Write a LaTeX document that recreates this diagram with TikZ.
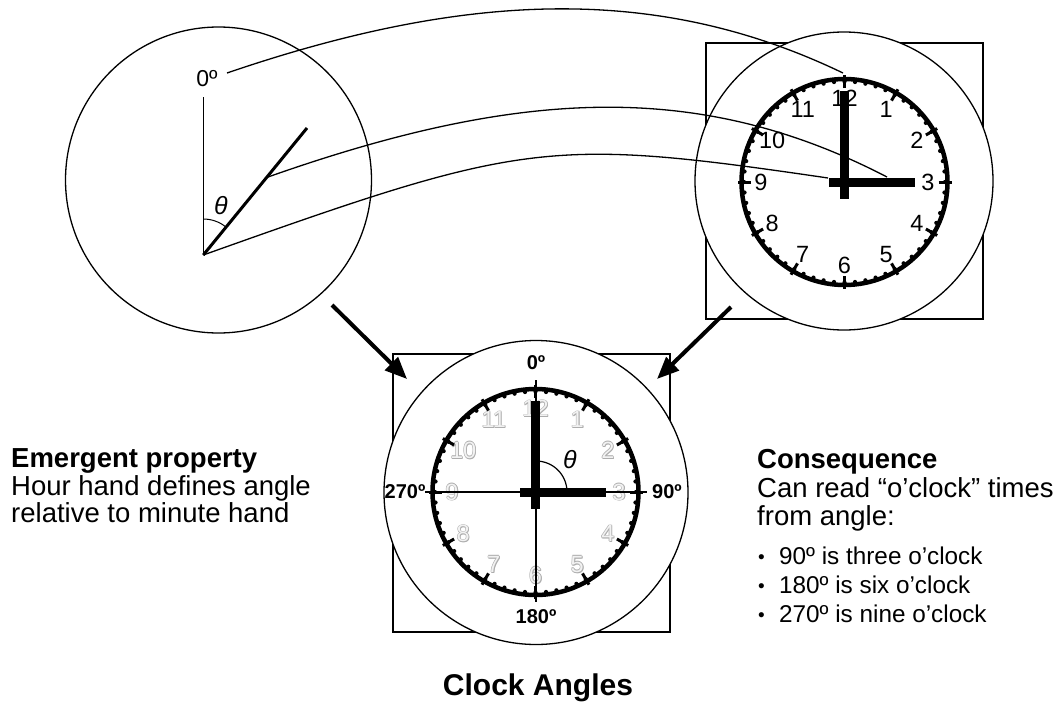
\documentclass[tikz,border=0pt]{standalone}
\usepackage{fontspec}
\setmainfont{Liberation Sans}
\usetikzlibrary{arrows.meta}
\newcommand\clockdial[1]{%
  \foreach \m in {0,...,59} \fill (#1) ++(\m*6:100.5) circle[radius=2.1];
  \draw[ring] (#1) circle[radius=103];
  \foreach \h in {0,...,11} \draw[hourtick] (#1) ++(\h*30:94) -- ++(\h*30:13);
}
\newcommand\clockhands[1]{%
  \fill ([shift={(-4.5,-91)}]#1) rectangle ([shift={(4.5,17)}]#1);
  \fill ([shift={(-16,-4.5)}]#1) rectangle ([shift={(70,4.5)}]#1);
}
\begin{document}
\begin{tikzpicture}[x=1pt,y=-1pt,
  thinline/.style={line width=1.3pt},
  sq/.style={line width=2.6pt},
  ring/.style={line width=4.5pt},
  hourtick/.style={line width=3pt},
  num/.style={font=\fontsize{23.5}{23.5}\selectfont, inner sep=0pt},
  deg/.style={font=\bfseries\fontsize{20}{20}\selectfont, inner sep=0pt},
  bigarrow/.style={line width=4pt, -{Triangle[length=22pt,width=18pt]}},
  curve/.style={line width=1.3pt},
  body/.style={font=\fontsize{27.5}{27.5}\selectfont, anchor=base west, inner sep=0pt},
  head/.style={font=\bfseries\fontsize{27.5}{27.5}\selectfont, anchor=base west, inner sep=0pt},
  bul/.style={font=\fontsize{24.3}{24.3}\selectfont, anchor=base west, inner sep=0pt},
  buldot/.style={font=\fontsize{19}{19}\selectfont, anchor=base west, inner sep=0pt},
]
\useasboundingbox (0,0) rectangle (1060,704);

% ---------- left circle ----------
\coordinate (lc) at (218.5,180);
\draw[thinline] (lc) circle[radius=153];
\coordinate (apex) at (203.3,255);
\coordinate (vtop) at (203.3,97);
\coordinate (dtop) at (307,128);
\coordinate (hmid) at (268,177);
\draw[line width=1.2pt] (apex) -- (vtop);
\draw[line width=3pt] (apex) -- (dtop);
\draw[line width=1pt] (203.3,219) arc[start angle=-90, end angle=-50.8, radius=36];
\node[inner sep=0pt, font=\fontsize{23}{23}\selectfont] (lzero) at (207,79) {0º};
\node[inner sep=0pt, font=\itshape\fontsize{25}{25}\selectfont] (lth) at (221,206) {θ};
\coordinate (lz) at (227,73);

% ---------- top-right clock ----------
\coordinate (ct) at (844.5,182);
\draw[sq] (706,43) rectangle (983,319);
\draw[thinline, fill=white] (844,181) circle[radius=149];
\foreach \h in {1,...,12}
  \node[num] (nt\h) at ([shift={(-90+30*\h:83.5)}]ct) {\h};
\clockdial{ct}
\clockhands{ct}
\coordinate (t12) at (843,73);
\coordinate (hr) at (887,177);
\coordinate (hl) at (828,178);

% ---------- bottom clock ----------
\coordinate (cb) at (535.5,492);
\draw[sq] (393,354) rectangle (670,632);
\draw[thinline, fill=white] (536,492.5) circle[radius=152];
\foreach \h in {1,...,12}{
  \path ([shift={(-90+30*\h:83.5)}]cb) coordinate (p\h);
  \foreach \dx/\dy [count=\i] in {0.8/0,-0.6/0,0/0.8,0/-0.6,0.8/0.8}
    \node[num, text=black!32] (nbo\h-\i) at ([shift={(\dx,\dy)}]p\h) {\h};
  \node[num, text=black!5] (nb\h) at (p\h) {\h};
}
\clockdial{cb}
\draw[line width=1.3pt] (425,492) -- (647,492);
\draw[line width=1.3pt] (536,380) -- (536,602);
\clockhands{cb}
\draw[line width=1.2pt] (536,461) arc[start angle=-90, end angle=0, radius=31];
\node[inner sep=0pt, font=\itshape\fontsize{25}{25}\selectfont] (bth) at (570,460) {θ};
\node[deg] (d0) at (536,363) {0º};
\node[deg] (d90) at (667,492) {90º};
\node[deg] (d180) at (536,617) {180º};
\node[deg] (d270) at (405,492) {270º};

% ---------- connecting curves ----------
\draw[curve] (lz) .. controls (470,-10) and (660,-15) .. (t12);
\draw[curve] (hmid) .. controls (520,88) and (700,80) .. (hr);
\draw[curve] (apex) .. controls (523,141) and (548,137) .. (hl);

% ---------- arrows ----------
\coordinate (a1s) at (332,305);
\coordinate (a1e) at (407,379);
\coordinate (a2s) at (731,307);
\coordinate (a2e) at (657,379);
\draw[bigarrow] (a1s) -- (a1e);
\draw[bigarrow] (a2s) -- (a2e);

% ---------- texts ----------
\node[head] (ep) at (11,467.5) {Emergent property};
\node[body] (ep2) at (11,495) {Hour hand defines angle};
\node[body] (ep3) at (11,522.5) {relative to minute hand};

\node[head] (cq) at (757,468) {Consequence};
\node[body] (cq2) at (757,497.5) {Can read “o’clock” times};
\node[body] (cq3) at (757,525) {from angle:};
\node[buldot] (b1d) at (758,563) {•};
\node[bul] (b1) at (779,564.5) {90º is three o’clock};
\node[buldot] (b2d) at (758,592) {•};
\node[bul] (b2) at (779,593.5) {180º is six o’clock};
\node[buldot] (b3d) at (758,621) {•};
\node[bul] (b3) at (779,622.5) {270º is nine o’clock};

\node[inner sep=0pt, font=\bfseries\fontsize{30}{30}\selectfont, anchor=base] (title) at (538,695) {Clock Angles};
\end{tikzpicture}
\end{document}
